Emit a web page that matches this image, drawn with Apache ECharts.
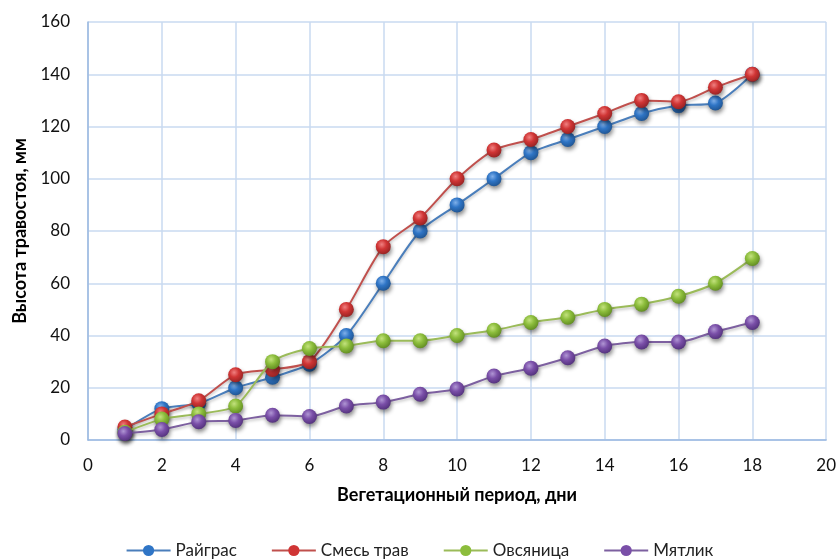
<!DOCTYPE html>
<html>
<head>
<meta charset="utf-8">
<script src="https://cdn.jsdelivr.net/npm/echarts@6/dist/echarts.min.js"></script>
<style>
  html, body { margin: 0; padding: 0; background: #fff; }
  #chart { width: 839px; height: 560px; }
</style>
</head>
<body>
<div id="chart"></div>
<script>
// Grass stand height over the growing period, mm
const days = [1, 2, 3, 4, 5, 6, 7, 8, 9, 10, 11, 12, 13, 14, 15, 16, 17, 18];
const seriesNames = ['Райграс', 'Смесь трав', 'Овсяница', 'Мятлик'];
const raigras = [4, 12, 14, 20, 24, 29, 40, 60, 80, 90, 100, 110, 115, 120, 125, 128, 129, 140];
const smes = [5, 10, 15, 25, 27, 30, 50, 74, 85, 100, 111, 115, 120, 125, 130, 129.5, 135, 140];
const ovsyanitsa = [3, 8, 10, 13, 30, 35, 36, 38, 38, 40, 42, 45, 47, 50, 52, 55, 60, 69.5];
const myatlik = [2.5, 4, 7, 7.5, 9.5, 9, 13, 14.5, 17.5, 19.5, 24.5, 27.5, 31.5, 36, 37.5, 37.5, 41.5, 45];
const xTicks = [0, 2, 4, 6, 8, 10, 12, 14, 16, 18, 20];
const yTicks = [0, 20, 40, 60, 80, 100, 120, 140, 160];

const palette = [
  { line: '#4a7ebb', light: '#7fb0ea', mid: '#2f75c6', dark: '#1f538f' },
  { line: '#c0504d', light: '#f08080', mid: '#d03535', dark: '#932222' },
  { line: '#9bbb59', light: '#c3e27e', mid: '#8cbd3c', dark: '#5f8a20' },
  { line: '#7d60a0', light: '#b096d4', mid: '#7a4fa8', dark: '#51307a' }
];

// shaded sphere fill for the markers
function ball(c) {
  return new echarts.graphic.RadialGradient(0.4, 0.35, 0.7, [
    { offset: 0, color: c.light },
    { offset: 0.45, color: c.mid },
    { offset: 1, color: c.dark }
  ]);
}

const allValues = [raigras, smes, ovsyanitsa, myatlik];
const series = allValues.map((vals, i) => ({
  name: seriesNames[i],
  type: 'line',
  smooth: 0.25,
  data: days.map((d, k) => [d, vals[k]]),
  symbol: 'circle',
  symbolSize: 15,
  z: 2 + i,
  lineStyle: {
    color: palette[i].line,
    width: 2,
    shadowColor: 'rgba(0,0,0,0.25)',
    shadowBlur: 3,
    shadowOffsetY: 2
  },
  itemStyle: {
    color: ball(palette[i]),
    borderWidth: 0,
    shadowColor: 'rgba(0,0,0,0.45)',
    shadowBlur: 4,
    shadowOffsetX: 1,
    shadowOffsetY: 3
  },
  emphasis: { disabled: true }
}));

const chart = echarts.init(document.getElementById('chart'), null, { renderer: 'canvas' });
chart.setOption({
  animation: false,
  color: palette.map(p => p.mid),
  textStyle: { fontFamily: 'Lato, "Open Sans", sans-serif' },
  grid: { left: 88, right: 12, top: 22, bottom: 120, containLabel: false },
  legend: {
    bottom: -4,
    left: 'center',
    itemWidth: 44,
    itemHeight: 14,
    itemGap: 34,
    textStyle: { fontSize: 17, color: '#222', fontFamily: 'Lato, sans-serif' },
    data: seriesNames.map((n, i) => ({
      name: n,
      itemStyle: { color: palette[i].mid, shadowBlur: 0 },
      lineStyle: { color: palette[i].line, width: 2, shadowBlur: 0 }
    }))
  },
  xAxis: {
    type: 'value',
    min: xTicks[0],
    max: xTicks[xTicks.length - 1],
    interval: 2,
    name: 'Вегетационный период, дни',
    nameLocation: 'middle',
    nameGap: 46,
    nameTextStyle: { fontSize: 18, fontWeight: 'bold', color: '#000', fontFamily: 'Lato, sans-serif' },
    axisLine: { show: true, lineStyle: { color: '#9ab9e1', width: 1.5 } },
    axisTick: { show: false },
    axisLabel: { fontSize: 17, color: '#111', margin: 17 },
    splitLine: { show: true, lineStyle: { color: '#c9daf0', width: 1.5 } }
  },
  yAxis: {
    type: 'value',
    min: yTicks[0],
    max: yTicks[yTicks.length - 1],
    interval: 20,
    name: 'Высота травостоя, мм',
    nameLocation: 'middle',
    nameGap: 56,
    nameTextStyle: { fontSize: 18, fontWeight: 'bold', color: '#000', fontFamily: 'Lato, sans-serif' },
    axisLine: { show: true, lineStyle: { color: '#9ab9e1', width: 1.5 } },
    axisTick: { show: false },
    axisLabel: { fontSize: 17, color: '#111', margin: 18 },
    splitLine: { show: true, lineStyle: { color: '#c9daf0', width: 1.5 } }
  },
  series: series
});
</script>
</body>
</html>
